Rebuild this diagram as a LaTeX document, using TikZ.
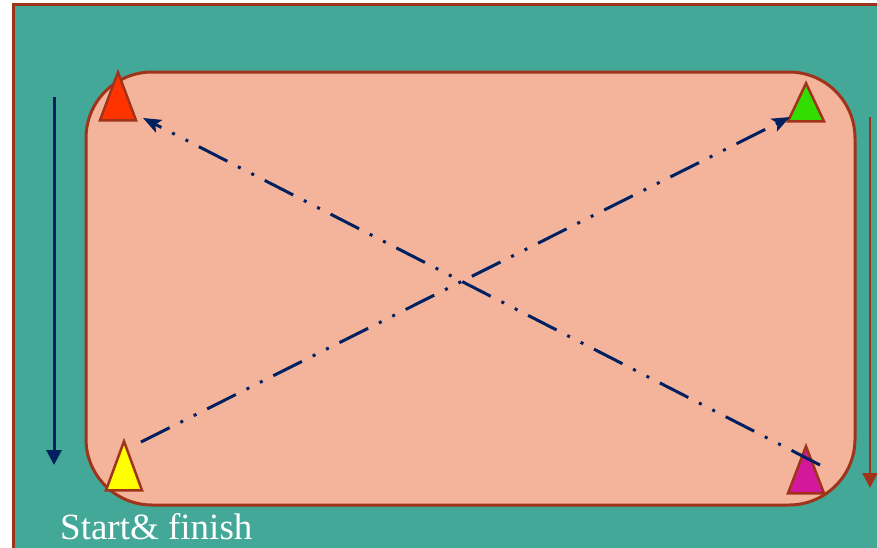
\documentclass[tikz,border=0pt]{standalone}
\usepackage{fontspec}
\setmainfont{Liberation Serif}
\usepackage{xcolor}
\usetikzlibrary{arrows.meta,shapes.geometric,calc}

\definecolor{field}{HTML}{44A899}
\definecolor{pitch}{HTML}{F4B49C}
\definecolor{rim}{HTML}{A0341A}
\definecolor{navy}{HTML}{002060}
\definecolor{conered}{HTML}{FF3300}
\definecolor{conegreen}{HTML}{33DD00}
\definecolor{coneyellow}{HTML}{FFFF00}
\definecolor{conepink}{HTML}{D4189C}

\begin{document}
\begin{tikzpicture}[
		x=1pt,y=-1pt,
		cone/.style={draw=rim,line width=2.5pt,line join=miter,isosceles triangle,isosceles triangle stretches,
			shape border rotate=90,minimum width=36pt,minimum height=48pt,inner sep=0pt,anchor=apex,fill=#1},
		run/.style={line width=3pt,dash pattern=on 32pt off 12pt on 3pt off 12pt on 3pt off 12pt,
			navy,-{Stealth[length=18pt,width=14pt,inset=4pt]}},
		lane/.style={line width=3pt,-{Triangle[length=15pt,width=15pt]}}
		]

		\fill[white] (0,0) rectangle (877,547);
		\clip (0,0) rectangle (877,547);
		\draw[rim,line width=3pt,fill=field] (13,4) rectangle (900,570);
		\draw[rim,line width=3pt,fill=pitch,rounded corners=66pt] (86,72) rectangle (855,505);

		\node[cone=conered] (redcone) at (118,69) {};
		\node[cone=conegreen,minimum height=38pt] (greencone) at (806,80) {};
		\node[cone=coneyellow,minimum height=49pt] (yellowcone) at (124,438) {};
		\node[cone=conepink,minimum height=47pt] (pinkcone) at (806,443) {};

		\coordinate (lanetop) at (54,97);
		\coordinate (lanebot) at (54,465);
		\coordinate (backtop) at (870,117);
		\coordinate (backbot) at (870,488);
		\coordinate (dstart) at (141,442);
		\coordinate (dend) at (790,117);
		\coordinate (estart) at (820,465);
		\coordinate (eend) at (143,118);

		\draw[lane,navy] (lanetop) -- (lanebot);
		\draw[lane,rim,line width=2.5pt] (backtop) -- (backbot);
		\draw[run] (dstart) -- (dend);
		\draw[run] (estart) -- (eend);

		\node[white,anchor=base west,inner sep=0pt,font=\fontsize{37}{40}\selectfont] (start) at (60,539) {Start\& finish};

	\end{tikzpicture}
\end{document}
